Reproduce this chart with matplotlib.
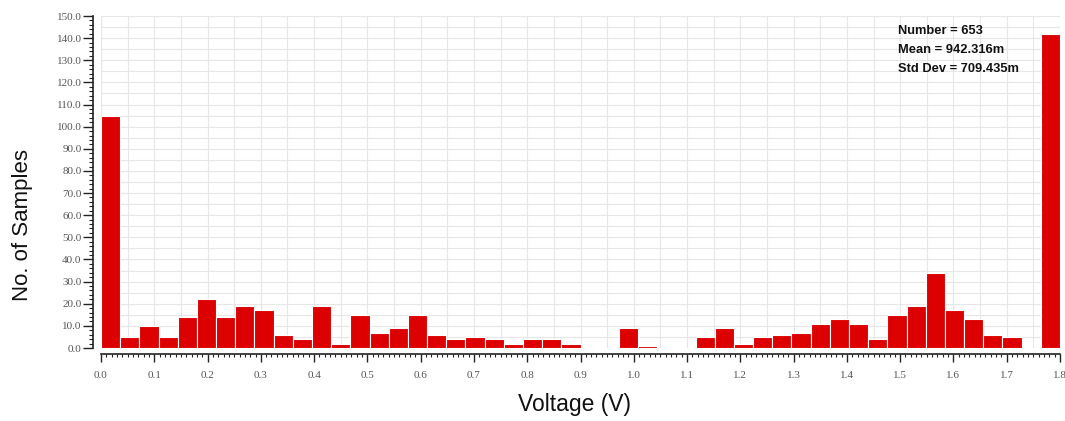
import numpy as np
import matplotlib
matplotlib.use("Agg")
import matplotlib.pyplot as plt
from matplotlib.ticker import MultipleLocator, FormatStrFormatter

# ---- data ----
bin_start = 0.0
bin_stop = 1.8
counts = [105, 5, 10, 5, 14, 22, 14, 19, 17, 6,
          4, 19, 2, 15, 7, 9, 15, 6, 4, 5,
          4, 2, 4, 4, 2, 0, 0, 9, 1, 0,
          0, 5, 9, 2, 5, 6, 7, 11, 13, 11,
          4, 15, 19, 34, 17, 13, 6, 5, 0, 142]
stats_lines = ["Number = 653", "Mean = 942.316m", "Std Dev = 709.435m"]
x_label = "Voltage (V)"
y_label = "No. of Samples"

edges = np.linspace(bin_start, bin_stop, len(counts) + 1)

fig = plt.figure(figsize=(10.65, 4.21), dpi=100)
ax = fig.add_axes([101 / 1065, (421 - 348) / 421, 959 / 1065, 332 / 421])

ax.bar(edges[:-1], counts, width=np.diff(edges), align="edge",
       color="#dd0000", edgecolor="white", linewidth=0.8, zorder=3)

ax.set_xlim(0, 1.8)
ax.set_ylim(0, 150)

ax.xaxis.set_major_locator(MultipleLocator(0.1))
ax.xaxis.set_minor_locator(MultipleLocator(0.01))
ax.yaxis.set_major_locator(MultipleLocator(10))
ax.yaxis.set_minor_locator(MultipleLocator(2))
ax.xaxis.set_major_formatter(FormatStrFormatter("%.1f"))
ax.yaxis.set_major_formatter(FormatStrFormatter("%.1f"))

for xv in np.arange(0, 1.8001, 0.05):
    ax.axvline(xv, color="#e6e6e6", lw=0.8, zorder=0)
for yv in np.arange(0, 150.001, 5):
    ax.axhline(yv, color="#e6e6e6", lw=0.8, zorder=0)

for s in ["top", "right"]:
    ax.spines[s].set_visible(False)
ax.spines["left"].set_position(("outward", 6))
ax.spines["bottom"].set_position(("outward", 4.5))
ax.spines["left"].set_bounds(0, 150)
ax.spines["bottom"].set_bounds(0, 1.8)
for s in ["left", "bottom"]:
    ax.spines[s].set_color("#222222")
    ax.spines[s].set_linewidth(1.2)

ax.tick_params(axis="y", which="major", direction="out", length=7, width=1,
               color="#222222", labelsize=8, labelcolor="#555555", pad=1)
ax.tick_params(axis="y", which="minor", direction="out", length=3, width=0.8,
               color="#222222")
ax.tick_params(axis="x", which="major", direction="out", length=6, width=1,
               color="#222222", labelsize=8, labelcolor="#555555", pad=6)
ax.tick_params(axis="x", which="minor", direction="out", length=2.5, width=0.8,
               color="#222222")
for lab in ax.get_xticklabels() + ax.get_yticklabels():
    lab.set_fontfamily("Liberation Serif")

fig.text(575 / 1065, 1 - 405 / 421, x_label, ha="center", va="center",
         fontsize=16.5, family="Liberation Sans", color="#111111")
fig.text(23 / 1065, 1 - 225 / 421, y_label, ha="center", va="center",
         rotation=90, fontsize=16, family="Liberation Sans", color="#111111")

for i, line in enumerate(stats_lines):
    fig.text(898 / 1065, 1 - (31 + 19 * i) / 421, line, ha="left", va="center",
             fontsize=9.3, fontweight="bold", family="Liberation Sans",
             color="#111111")

fig.savefig("out.png", dpi=100)
